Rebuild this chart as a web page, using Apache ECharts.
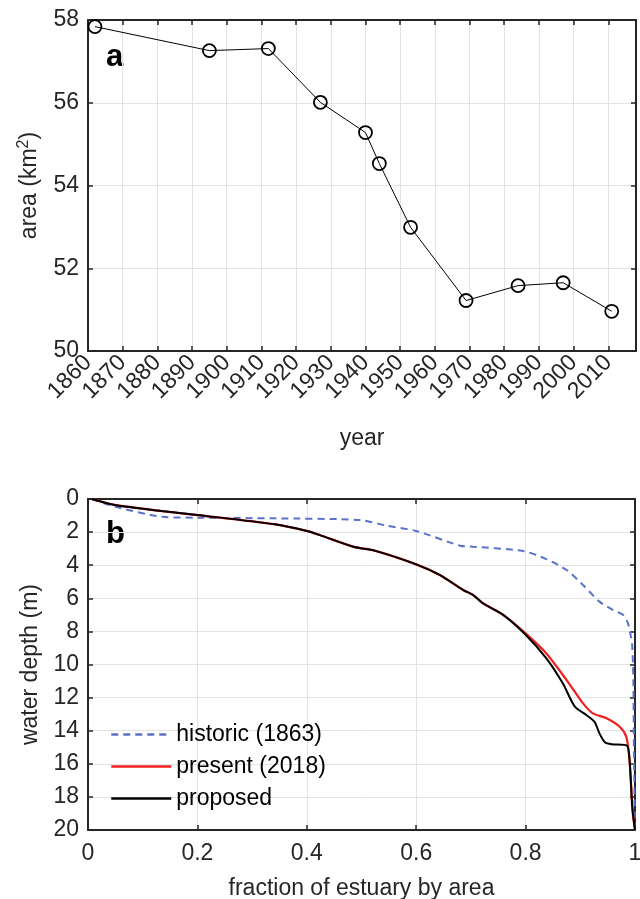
<!DOCTYPE html>
<html>
<head>
<meta charset="utf-8">
<script src="https://cdn.jsdelivr.net/npm/echarts@6/dist/echarts.min.js"></script>
<style>
  html, body { margin: 0; padding: 0; background: #fff; }
  #chart { width: 640px; height: 899px; }
</style>
</head>
<body>
<div id="chart"></div>
<script>
// Panel a: estuary surface area by survey year
const years = [1862, 1895, 1912, 1927, 1940, 1944, 1953, 1969, 1984, 1997, 2011];
const areas = [57.84, 57.26, 57.31, 56.01, 55.28, 54.53, 52.99, 51.22, 51.58, 51.65, 50.96];

// Panel b: hypsometry, fraction of estuary area vs water depth
const historicFrac  = [0.007, 0.049, 0.135, 0.2, 0.342, 0.497, 0.546, 0.6, 0.68, 0.704, 0.795, 0.838, 0.875, 0.905, 0.935, 0.96, 0.978, 0.987, 0.993, 0.995, 0.997, 0.998, 1.0];
const historicDepth = [0, 0.46, 1.07, 1.13, 1.17, 1.27, 1.61, 1.93, 2.82, 2.88, 3.14, 3.63, 4.29, 5.2, 6.2, 6.71, 7.0, 7.5, 8.4, 8.9, 10.9, 15, 20];

const presentFrac  = [0.007, 0.049, 0.135, 0.2, 0.342, 0.4, 0.424, 0.485, 0.524, 0.6, 0.643, 0.686, 0.704, 0.722, 0.759, 0.8, 0.838, 0.875, 0.905, 0.923, 0.948, 0.972, 0.984, 0.99, 0.996, 1.0];
const presentDepth = [0, 0.36, 0.73, 0.97, 1.53, 1.93, 2.18, 2.88, 3.12, 3.95, 4.59, 5.5, 5.8, 6.3, 7.0, 8.12, 9.33, 10.94, 12.35, 12.95, 13.25, 13.76, 14.36, 15.77, 19, 20];

const proposedFrac  = [0.007, 0.049, 0.135, 0.2, 0.342, 0.4, 0.424, 0.485, 0.524, 0.6, 0.643, 0.686, 0.704, 0.722, 0.759, 0.8, 0.838, 0.868, 0.89, 0.911, 0.926, 0.935, 0.945, 0.957, 0.985, 0.99, 0.995, 1.0];
const proposedDepth = [0, 0.36, 0.73, 0.97, 1.53, 1.93, 2.18, 2.88, 3.12, 3.95, 4.59, 5.5, 5.8, 6.3, 7.0, 8.2, 9.63, 11.14, 12.55, 13.05, 13.46, 14.16, 14.7, 14.82, 14.9, 15.77, 18.6, 20];

const seriesNames = ['historic (1863)', 'present (2018)', 'proposed'];

const zip = (xs, ys) => xs.map((x, i) => [x, ys[i]]);

const FONT = '"Liberation Sans", Arial, Helvetica, sans-serif';
const INK = '#262626';
const GRID_LINE = '#e3e3e3';
const FS = 23;

const labelStyle = { color: INK, fontSize: FS, fontFamily: FONT };
const boxLine = { show: true, onZero: false, lineStyle: { color: INK, width: 2 } };
const innerTick = { show: true, inside: true, length: 5, lineStyle: { color: INK, width: 1.5 } };
const gridSplit = { show: true, lineStyle: { color: GRID_LINE, width: 1 } };

// bottom/left axes carry labels and grid; top/right axes only close the box with ticks
function mirrorX(gridIndex, min, max, interval) {
  return {
    type: 'value', gridIndex, position: 'top', min, max, interval,
    axisLine: boxLine, axisTick: innerTick, axisLabel: { show: false }, splitLine: { show: false }
  };
}
function mirrorY(gridIndex, min, max, interval, inverse) {
  return {
    type: 'value', gridIndex, position: 'right', min, max, interval, inverse,
    axisLine: boxLine, axisTick: innerTick, axisLabel: { show: false }, splitLine: { show: false }
  };
}

const chart = echarts.init(document.getElementById('chart'), null, { renderer: 'canvas' });

chart.setOption({
  animation: false,
  backgroundColor: '#fff',
  textStyle: { fontFamily: FONT },
  grid: [
    { left: 88, top: 20, width: 548, height: 331, outerBoundsMode: 'none' },
    { left: 88, top: 499, width: 547, height: 331, outerBoundsMode: 'none' }
  ],
  xAxis: [
    {
      type: 'value', gridIndex: 0, min: 1860, max: 2018, interval: 10,
      axisLine: boxLine, axisTick: innerTick, splitLine: gridSplit,
      axisLabel: Object.assign({ rotate: 45, margin: 8, showMaxLabel: false, formatter: v => String(v) }, labelStyle),
      name: 'year', nameLocation: 'middle', nameGap: 76,
      nameTextStyle: labelStyle
    },
    mirrorX(0, 1860, 2018, 10),
    {
      type: 'value', gridIndex: 1, min: 0, max: 1, interval: 0.2,
      axisLine: boxLine, axisTick: innerTick, splitLine: gridSplit,
      axisLabel: Object.assign({ margin: 12 }, labelStyle),
      name: 'fraction of estuary by area', nameLocation: 'middle', nameGap: 47,
      nameTextStyle: labelStyle
    },
    mirrorX(1, 0, 1, 0.2)
  ],
  yAxis: [
    {
      type: 'value', gridIndex: 0, min: 50, max: 58, interval: 2,
      axisLine: boxLine, axisTick: innerTick, splitLine: gridSplit,
      axisLabel: Object.assign({ margin: 9 }, labelStyle),
      name: '{n|area (km}{s|2}{n|)}', nameLocation: 'middle', nameGap: 44,
      nameTextStyle: {
        color: INK, fontFamily: FONT,
        rich: {
          n: { fontSize: FS, color: INK, fontFamily: FONT },
          s: { fontSize: 16, color: INK, fontFamily: FONT, verticalAlign: 'top', padding: [0, 0, 12, 0] }
        }
      }
    },
    mirrorY(0, 50, 58, 2, false),
    {
      type: 'value', gridIndex: 1, min: 0, max: 20, interval: 2, inverse: true,
      axisLine: boxLine, axisTick: innerTick, splitLine: gridSplit,
      axisLabel: Object.assign({ margin: 9 }, labelStyle),
      name: 'water depth (m)', nameLocation: 'middle', nameGap: 46,
      nameTextStyle: labelStyle
    },
    mirrorY(1, 0, 20, 2, true)
  ],
  legend: {
    show: true,
    data: seriesNames,
    orient: 'vertical',
    left: 110, top: 723, padding: 0,
    itemWidth: 60, itemHeight: 22, itemGap: 9,
    itemStyle: { opacity: 0, color: 'transparent', borderWidth: 0 },
    lineStyle: { width: 2.5 },
    textStyle: { color: '#000', fontSize: FS, fontFamily: FONT },
    backgroundColor: 'transparent'
  },
  graphic: [
    { type: 'text', left: 106, top: 42, style: { text: 'a', font: 'bold 31px ' + FONT, fill: '#000' } },
    { type: 'text', left: 106, top: 519, style: { text: 'b', font: 'bold 31px ' + FONT, fill: '#000' } }
  ],
  series: [
    {
      type: 'line', xAxisIndex: 0, yAxisIndex: 0,
      data: zip(years, areas),
      symbol: 'circle', symbolSize: 13,
      itemStyle: { color: 'rgba(0,0,0,0)', borderColor: '#000', borderWidth: 1.8 },
      lineStyle: { color: '#000', width: 1 },
      z: 3
    },
    {
      name: seriesNames[0], type: 'line', xAxisIndex: 2, yAxisIndex: 2,
      data: zip(historicFrac, historicDepth),
      showSymbol: false, symbol: 'none', smooth: 0.25,
      itemStyle: { color: '#5a72c8' },
      lineStyle: { color: '#5a72c8', width: 2, type: [7, 5] },
      z: 2
    },
    {
      name: seriesNames[1], type: 'line', xAxisIndex: 2, yAxisIndex: 2,
      data: zip(presentFrac, presentDepth),
      showSymbol: false, symbol: 'none', smooth: 0.25,
      itemStyle: { color: '#f02020' },
      lineStyle: { color: '#f02020', width: 2.2 },
      z: 3
    },
    {
      name: seriesNames[2], type: 'line', xAxisIndex: 2, yAxisIndex: 2,
      data: zip(proposedFrac, proposedDepth),
      showSymbol: false, symbol: 'none', smooth: 0.25,
      itemStyle: { color: '#000' },
      lineStyle: { color: '#000', width: 2 },
      z: 4
    }
  ]
});
</script>
</body>
</html>
